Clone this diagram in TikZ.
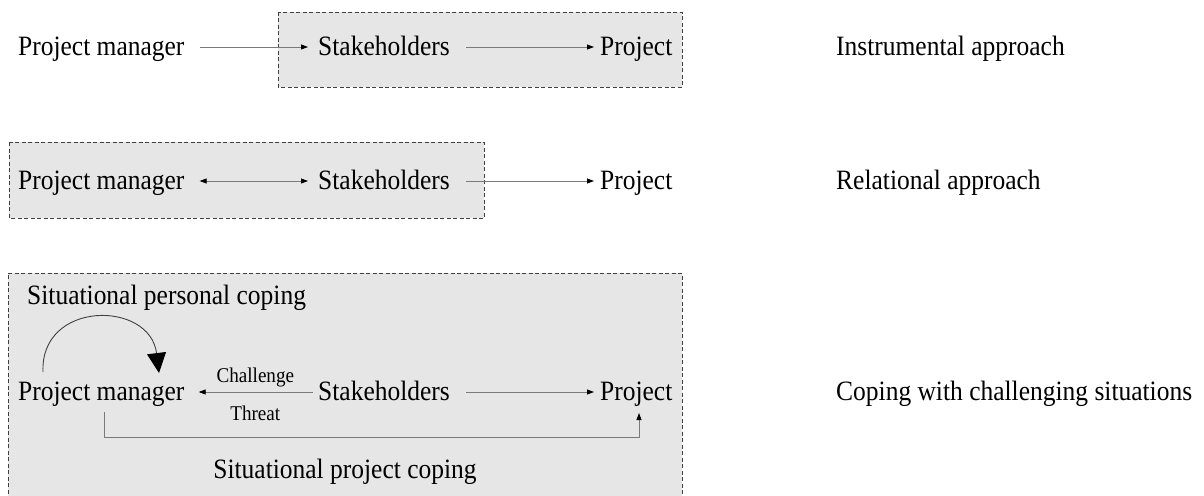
\documentclass[tikz,border=0pt]{standalone}
\usepackage{fontspec}
\setmainfont{Liberation Serif}[FakeStretch=0.91]
\usetikzlibrary{arrows.meta}
\definecolor{boxfill}{HTML}{E6E6E6}
\definecolor{boxline}{HTML}{404040}
\definecolor{linkgray}{HTML}{7A7A7A}
\tikzset{
  actor/.style={anchor=west, inner sep=0pt, text height=19pt, text depth=2pt, font=\fontsize{28}{32}\selectfont},
  cue/.style={inner sep=0pt, font=\fontsize{21}{24}\selectfont},
  zone/.style={draw=boxline, line width=0.9pt, dash pattern=on 4pt off 2.5pt},
  tip/.style={-{Triangle[length=7pt,width=5pt,color=black]}},
  link/.style={draw=linkgray, line width=0.8pt, tip},
  twoway/.style={draw=linkgray, line width=0.8pt, {Triangle[length=7pt,width=5pt,color=black]}-{Triangle[length=7pt,width=5pt,color=black]}}
}

\begin{document}
\begin{tikzpicture}[x=1pt, y=-1pt]
\useasboundingbox (0,0) rectangle (1204,495);
\draw[zone, fill=boxfill] (278,12) rectangle (682,87);
\draw[zone, fill=boxfill] (9,142) rectangle (484,218);
\fill[boxfill] (8,273) rectangle (682,500);
\draw[zone] (8,500) -- (8,273) -- (682,273) -- (682,500);

\node[actor] (pm1) at (18,47) {Project manager};
\node[actor] (sh1) at (318,47) {Stakeholders};
\node[actor] (pj1) at (600,47) {Project};
\node[actor] (ap1) at (836,47) {Instrumental approach};
\draw[link, shorten <=15pt, shorten >=10pt] (pm1) -- (sh1);
\draw[link, shorten <=16pt, shorten >=6pt] (sh1) -- (pj1);

\node[actor] (pm2) at (18,181) {Project manager};
\node[actor] (sh2) at (318,181) {Stakeholders};
\node[actor] (pj2) at (600,181) {Project};
\node[actor] (ap2) at (836,181) {Relational approach};
\draw[twoway, shorten <=15pt, shorten >=10pt] (pm2) -- (sh2);
\draw[link, shorten <=16pt, shorten >=6pt] (sh2) -- (pj2);

\node[actor] (pc) at (27,296) {Situational personal coping};
\node[actor] (pm3) at (18,392) {Project manager};
\node[actor] (sh3) at (318,392) {Stakeholders};
\node[actor] (pj3) at (600,392) {Project};
\node[actor] (ap3) at (836,392) {Coping with challenging situations};
\node[actor, anchor=center] (sc) at (345,470) {Situational project coping};
\draw[link, shorten <=5pt, shorten >=14pt] (sh3) -- (pm3)
  node[cue, pos=0.47, above=5pt] (ch) {Challenge}
  node[cue, pos=0.47, below=14pt] (th) {Threat};
\draw[link, shorten <=16pt, shorten >=6pt] (sh3) -- (pj3);

\coordinate (loopS) at (43,372);
\coordinate (loopE) at (159,373);
\draw[draw=boxline, line width=0.9pt, -{Triangle[length=20pt,width=19pt,color=black]}]
  (loopS) .. controls (40,300) and (150,300) .. (loopE);
\coordinate (pmfoot) at (104,412);
\coordinate (pjfoot) at (639,413);
\draw[link] (pmfoot) -- ++(0,25) -| (pjfoot);
\end{tikzpicture}
\end{document}
